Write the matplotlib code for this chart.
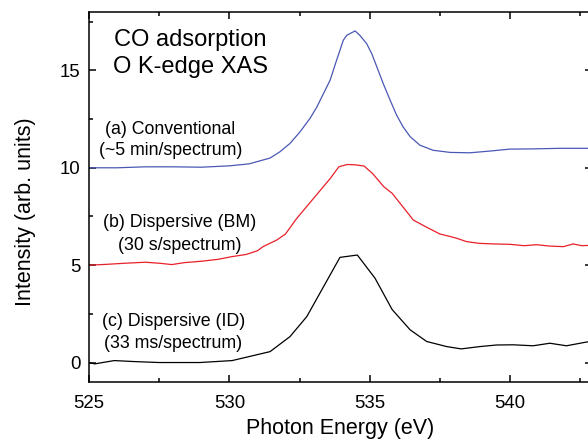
import matplotlib
matplotlib.use('Agg')
import matplotlib.pyplot as plt
from matplotlib.ticker import MultipleLocator

plt.rcParams['font.family'] = ['Liberation Sans', 'DejaVu Sans']

# (a) conventional, offset +10
e_a = [525.0, 526.0, 527.0, 528.0, 529.0, 530.0, 530.7, 531.45, 531.8, 532.16,
       532.52, 532.87, 533.11, 533.35, 533.59, 533.82, 534.06, 534.18, 534.48, 534.65,
       534.89, 535.07, 535.25, 535.48, 535.72, 535.96, 536.19, 536.44, 536.79, 537.26,
       537.86, 538.57, 539.29, 540.0, 540.82, 541.78, 542.9]
i_a = [10.0, 10.0, 10.05, 10.05, 10.03, 10.1, 10.2, 10.5, 10.82, 11.25,
       11.85, 12.53, 13.1, 13.8, 14.5, 15.52, 16.55, 16.8, 17.03, 16.8,
       16.38, 15.87, 15.2, 14.33, 13.5, 12.7, 12.1, 11.6, 11.16, 10.9,
       10.79, 10.77, 10.86, 10.96, 10.97, 11.0, 11.0]

# (b) dispersive BM, offset +5
e_b = [525.0, 525.6, 526.3, 527.0, 527.5, 527.95, 528.4, 529.0, 529.6, 530.1,
       530.6, 531.0, 531.2, 531.7, 532.0, 532.4, 533.0, 533.6, 533.9, 534.2,
       534.5, 534.8, 535.1, 535.5, 535.8, 536.4, 536.55, 537.0, 537.5, 537.9,
       538.1, 538.45, 538.9, 539.4, 540.0, 540.5, 540.95, 541.4, 541.9, 542.25,
       542.55, 542.9]
i_b = [5.0, 5.04, 5.1, 5.15, 5.1, 5.03, 5.13, 5.2, 5.3, 5.44,
       5.55, 5.74, 5.95, 6.3, 6.6, 7.4, 8.43, 9.46, 10.05, 10.17,
       10.15, 10.09, 9.71, 9.03, 8.69, 7.6, 7.32, 6.97, 6.6, 6.46,
       6.38, 6.21, 6.12, 6.09, 6.07, 6.0, 6.05, 5.98, 5.95, 6.09,
       6.0, 6.02]

# (c) dispersive ID
e_c = [525.0, 525.2, 525.9, 526.6, 527.5, 528.95, 530.1, 531.45, 532.16, 532.76,
       533.94, 534.56, 535.19, 535.8, 536.44, 537.03, 537.74, 538.26, 538.93,
       539.52, 540.12, 540.82, 541.42, 542.01, 542.72, 543.0]
i_c = [0.0, -0.07, 0.1, 0.05, 0.0, 0.0, 0.1, 0.56, 1.33, 2.36,
       5.4, 5.52, 4.33, 2.72, 1.68, 1.08, 0.82, 0.7, 0.82,
       0.9, 0.91, 0.86, 0.99, 0.86, 1.05, 1.1]

fig = plt.figure(figsize=(5.88, 4.41), dpi=100)
ax = fig.add_axes([89 / 588, 59 / 441, 503 / 588, 370 / 441])

ax.plot(e_a, i_a, color='#4a58b4', lw=0.9)
ax.plot(e_b, i_b, color='#e8202a', lw=0.9)
ax.plot(e_c, i_c, color='black', lw=0.9)

ax.set_xlim(525, 542.92)
ax.set_ylim(-1, 18)
ax.xaxis.set_major_locator(MultipleLocator(5))
ax.xaxis.set_minor_locator(MultipleLocator(2.5))
ax.yaxis.set_major_locator(MultipleLocator(5))
ax.yaxis.set_minor_locator(MultipleLocator(2.5))
ax.tick_params(which='both', direction='in', top=True, right=True, width=1.1)
ax.tick_params(which='major', length=5, labelsize=13.4, pad=6)
ax.tick_params(axis='x', which='major', pad=9)
ax.tick_params(which='minor', length=3)
for s in ax.spines.values():
    s.set_linewidth(1.1)

ax.set_xlabel('Photon Energy (eV)', fontsize=15.5)
ax.set_ylabel('Intensity (arb. units)', fontsize=15.5)
ax.xaxis.set_label_coords(0.5, -0.097)
ax.yaxis.set_label_coords(-0.106, 0.46)

ax.text(528.6, 16.26, 'CO adsorption', fontsize=17, ha='center', va='baseline')
ax.text(528.6, 14.87, 'O K-edge XAS', fontsize=17, ha='center', va='baseline')
ax.text(527.9, 11.76, '(a) Conventional', fontsize=12.8, ha='center', va='baseline')
ax.text(527.92, 10.65, '(~5 min/spectrum)', fontsize=12.8, ha='center', va='baseline')
ax.text(528.24, 6.95, '(b) Dispersive (BM)', fontsize=12.8, ha='center', va='baseline')
ax.text(528.24, 5.78, '(30 s/spectrum)', fontsize=12.8, ha='center', va='baseline')
ax.text(528.0, 1.85, '(c) Dispersive (ID)', fontsize=12.8, ha='center', va='baseline')
ax.text(528.0, 0.74, '(33 ms/spectrum)', fontsize=12.8, ha='center', va='baseline')

fig.savefig('out.png', dpi=100)
